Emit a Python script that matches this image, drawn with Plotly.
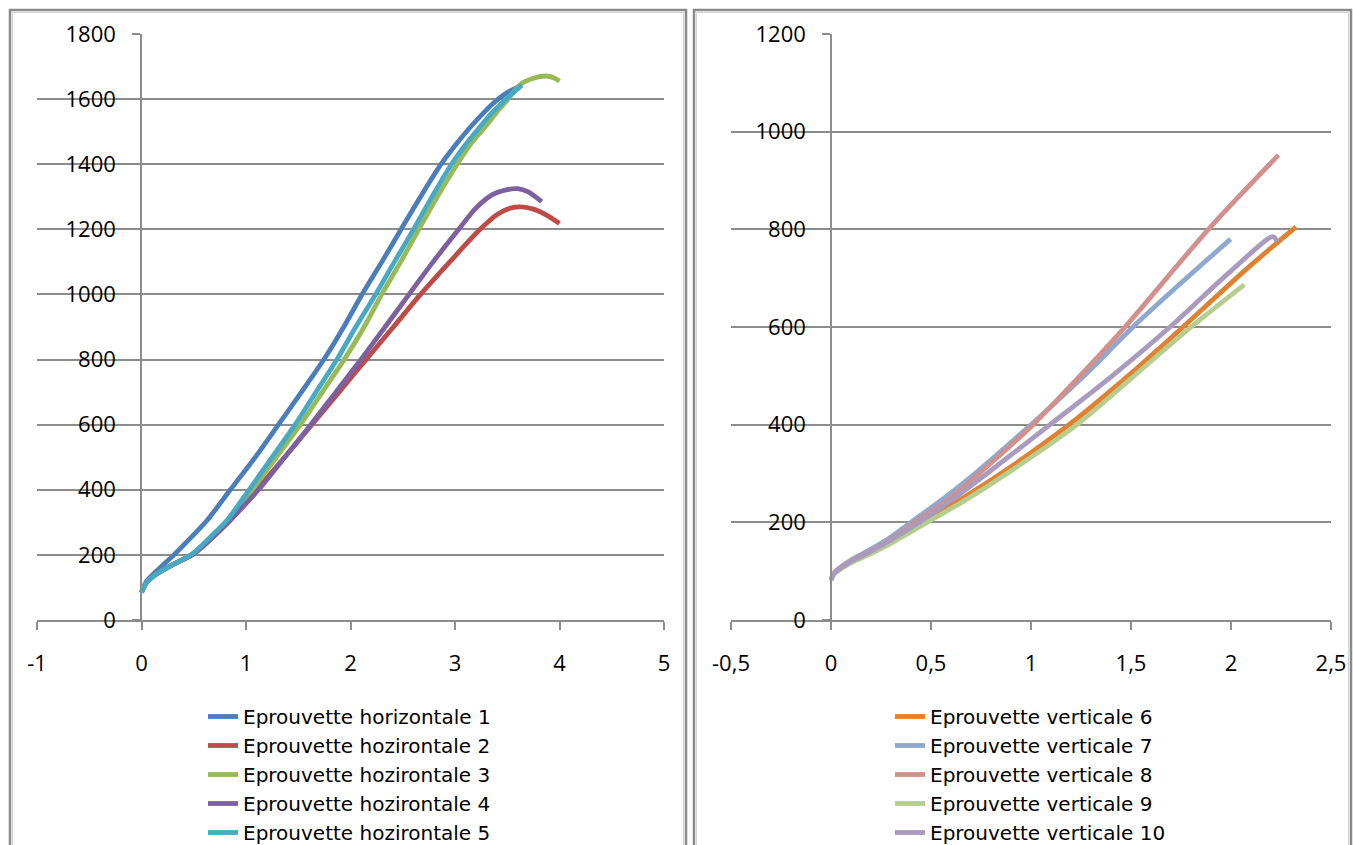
import plotly.graph_objects as go

W, H = 1353, 845

# --- horizontal specimens (left chart) ---
h_names = ["Eprouvette horizontale 1", "Eprouvette hozirontale 2", "Eprouvette hozirontale 3",
           "Eprouvette hozirontale 4", "Eprouvette hozirontale 5"]
h_colors = ["#4A7EBB", "#BE4B48", "#98B954", "#7D60A0", "#46AAC5"]

h1_x = [0, 0.05, 0.15, 0.31, 0.5, 0.63, 0.85, 1.1, 1.31, 1.53, 1.745, 1.935, 2.11, 2.3, 2.48, 2.67, 2.86, 3.02, 3.15, 3.28, 3.4, 3.5, 3.6]
h1_y = [85, 120, 152, 200, 262, 307, 400, 505, 600, 700, 800, 900, 1000, 1100, 1198, 1300, 1397, 1465, 1515, 1560, 1597, 1620, 1637]

h2_x = [0, 0.055, 0.15, 0.31, 0.49, 0.66, 0.85, 1.1, 1.37, 1.63, 1.89, 2.15, 2.41, 2.67, 2.95, 3.24, 3.4, 3.53, 3.63, 3.75, 3.88, 4.0]
h2_y = [85, 118, 143, 172, 203, 250, 307, 400, 500, 600, 700, 800, 900, 1000, 1100, 1200, 1245, 1265, 1269, 1262, 1243, 1218]

h3_x = [0, 0.055, 0.15, 0.31, 0.49, 0.66, 0.85, 1.06, 1.29, 1.52, 1.73, 1.94, 2.13, 2.3, 2.48, 2.65, 2.83, 3.0, 3.15, 3.29, 3.4, 3.5, 3.63, 3.75, 3.87, 3.95, 4.0]
h3_y = [85, 118, 143, 172, 203, 250, 307, 400, 500, 600, 700, 800, 900, 1001, 1100, 1198, 1300, 1390, 1462, 1515, 1560, 1597, 1646, 1664, 1671, 1665, 1655]

h4_x = [0, 0.055, 0.15, 0.31, 0.5, 0.67, 0.85, 1.12, 1.37, 1.62, 1.86, 2.1, 2.33, 2.56, 2.79, 3.03, 3.2, 3.35, 3.5, 3.6, 3.7, 3.83]
h4_y = [85, 118, 143, 172, 203, 250, 307, 400, 500, 600, 700, 800, 900, 1000, 1100, 1198, 1265, 1305, 1322, 1325, 1315, 1285]

h5_x = [0, 0.055, 0.15, 0.31, 0.485, 0.65, 0.82, 1.03, 1.25, 1.47, 1.67, 1.87, 2.05, 2.24, 2.42, 2.6, 2.78, 2.96, 3.1, 3.24, 3.34, 3.44, 3.54, 3.64]
h5_y = [85, 118, 143, 172, 203, 252, 307, 400, 500, 600, 700, 800, 900, 1000, 1100, 1198, 1300, 1397, 1460, 1515, 1553, 1585, 1615, 1643]

h_tickvals = [-1, 0, 1, 2, 3, 4, 5]
h_ticktext = ["-1", "0", "1", "2", "3", "4", "5"]

# --- vertical specimens (right chart) ---
v_names = ["Eprouvette verticale 6", "Eprouvette verticale 7", "Eprouvette verticale 8",
           "Eprouvette verticale 9", "Eprouvette verticale 10"]
v_colors = ["#E0812F", "#8EA8CF", "#D38F8C", "#B5CD8E", "#A89BBF"]

v6_x = [0, 0.015, 0.04, 0.1, 0.2, 0.3, 0.46, 0.64, 0.85, 1.19, 1.48, 1.76, 2.07, 2.325]
v6_y = [82, 95, 104, 119, 139, 161, 200, 245, 300, 400, 498, 600, 716, 805]

v7_x = [0, 0.015, 0.04, 0.1, 0.2, 0.3, 0.4, 0.55, 0.72, 1.0, 1.26, 1.51, 1.75, 1.998]
v7_y = [82, 96, 106, 123, 145, 170, 200, 245, 300, 400, 498, 600, 690, 780]

v8_x = [0, 0.015, 0.04, 0.1, 0.2, 0.3, 0.42, 0.58, 0.74, 1.01, 1.24, 1.47, 1.887, 2.237]
v8_y = [82, 96, 105, 121, 142, 166, 200, 245, 300, 400, 498, 600, 800, 952]

v9_x = [0, 0.015, 0.04, 0.1, 0.2, 0.3, 0.48, 0.67, 0.88, 1.23, 1.51, 1.8, 2.067]
v9_y = [82, 94, 102, 117, 136, 157, 200, 245, 300, 400, 498, 600, 687]

v10_x = [0, 0.015, 0.04, 0.1, 0.2, 0.3, 0.44, 0.6, 0.78, 1.095, 1.4, 1.695, 2.0, 2.21, 2.23]
v10_y = [82, 95, 104, 120, 141, 164, 200, 245, 300, 400, 498, 600, 715, 785, 775]

v_tickvals = [-0.5, 0, 0.5, 1, 1.5, 2, 2.5]
v_ticktext = ["-0,5", "0", "0,5", "1", "1,5", "2", "2,5"]

h_data = [(h1_x, h1_y), (h2_x, h2_y), (h3_x, h3_y), (h4_x, h4_y), (h5_x, h5_y)]
v_data = [(v6_x, v6_y), (v7_x, v7_y), (v8_x, v8_y), (v9_x, v9_y), (v10_x, v10_y)]

FONT = "Open Sans"
LEGFONT = "DejaVu Sans"
GRID = "#8c8c8c"


def px(x):
    return x / W


def py(y):
    return 1 - y / H


fig = go.Figure()

for (xs, ys), name, col in zip(h_data, h_names, h_colors):
    fig.add_trace(go.Scatter(x=xs, y=ys, name=name, mode="lines",
                             line=dict(color=col, width=4.8, shape="spline", smoothing=0.8),
                             xaxis="x", yaxis="y", legend="legend"))

for (xs, ys), name, col in zip(v_data, v_names, v_colors):
    fig.add_trace(go.Scatter(x=xs, y=ys, name=name, mode="lines",
                             line=dict(color=col, width=4.8, shape="spline", smoothing=0.8),
                             xaxis="x2", yaxis="y2", legend="legend2"))

tickfont = dict(family=FONT, size=22, color="black")

xcommon = dict(showgrid=False, zeroline=False, showline=True, linecolor=GRID, linewidth=1.5,
               ticks="outside", ticklen=8, tickcolor=GRID, tickwidth=1.5, automargin=False,
               tickfont=tickfont, ticklabelstandoff=15, fixedrange=True)
ycommon = dict(showgrid=True, gridcolor=GRID, gridwidth=1.5, zeroline=False, showline=True,
               linecolor=GRID, linewidth=1.5, ticks="outside", ticklen=8, tickcolor=GRID,
               tickwidth=1.5, tickfont=tickfont, ticklabelstandoff=12, anchor="free",
               automargin=False, fixedrange=True)

legfont = dict(family=LEGFONT, size=20, color="black")

fig.update_layout(
    width=W, height=H,
    margin=dict(l=0, r=0, t=0, b=0, autoexpand=False),
    paper_bgcolor="white", plot_bgcolor="white",
    separators=", ",
    font=dict(family=FONT, color="black"),
    xaxis=dict(xcommon, domain=[px(37), px(664)], range=[-1, 5],
               tickvals=h_tickvals, ticktext=h_ticktext, anchor="y"),
    yaxis=dict(ycommon, domain=[py(620), py(34)], range=[0, 1800], dtick=200, position=px(141)),
    xaxis2=dict(xcommon, domain=[px(731), px(1331)], range=[-0.5, 2.5],
                tickvals=v_tickvals, ticktext=v_ticktext, anchor="y2"),
    yaxis2=dict(ycommon, domain=[py(620), py(34)], range=[0, 1200], dtick=200, position=px(831)),
    legend=dict(x=px(203), y=py(697), xanchor="left", yanchor="top", bgcolor="rgba(0,0,0,0)",
                font=legfont, tracegroupgap=0),
    legend2=dict(x=px(890), y=py(697), xanchor="left", yanchor="top", bgcolor="rgba(0,0,0,0)",
                 font=legfont, tracegroupgap=0),
)

# chart frames
for x0, x1 in [(10, 686), (694, 1351)]:
    fig.add_shape(type="rect", xref="paper", yref="paper", x0=px(x0), x1=px(x1), y0=py(860), y1=py(10),
                  line=dict(color="#8a8a8a", width=2.5), layer="below")
    fig.add_shape(type="rect", xref="paper", yref="paper", x0=px(x0 + 2.5), x1=px(x1 - 2.5),
                  y0=py(860), y1=py(12.5), line=dict(color="#d4d4d4", width=1), layer="below")

fig.write_html("out.html", config={"displayModeBar": False},
               post_script="document.body.style.margin='0';document.body.style.overflow='hidden';")
